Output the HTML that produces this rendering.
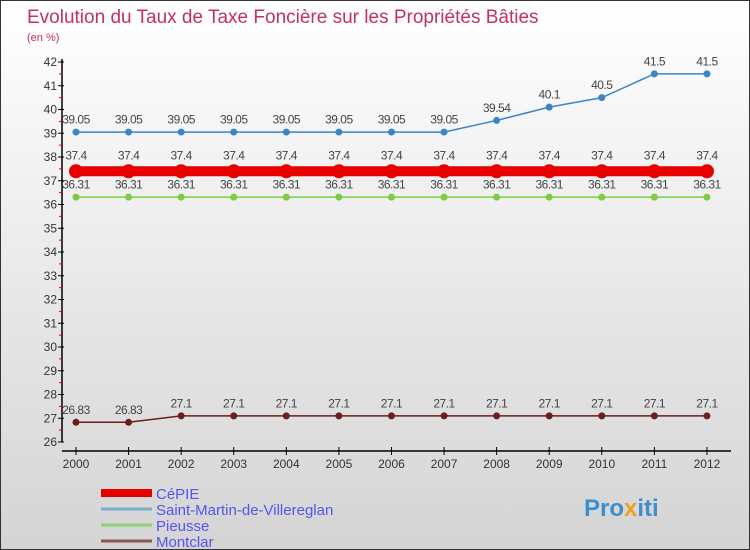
<!DOCTYPE html>
<html><head><meta charset="utf-8"><style>
body{margin:0;}
#c{width:748px;height:548px;border:1px solid #333;background:linear-gradient(#fff,#d4d4d4);position:relative;overflow:hidden;font-family:"Liberation Sans",sans-serif;}
text{font-family:"Liberation Sans",sans-serif;}
</style></head><body>
<div id="c">
<svg id="s" width="748" height="548">
<text x="26" y="22" font-size="19" fill="#c0306a">Evolution du Taux de Taxe Foncière sur les Propriétés Bâties</text>
<text x="26" y="40" font-size="11" fill="#c0306a">(en %)</text>
</svg>
</div>
<script>
const years=[2000,2001,2002,2003,2004,2005,2006,2007,2008,2009,2010,2011,2012];
const cepie=[37.4,37.4,37.4,37.4,37.4,37.4,37.4,37.4,37.4,37.4,37.4,37.4,37.4];
const smv=[39.05,39.05,39.05,39.05,39.05,39.05,39.05,39.05,39.54,40.1,40.5,41.5,41.5];
const pieusse=[36.31,36.31,36.31,36.31,36.31,36.31,36.31,36.31,36.31,36.31,36.31,36.31,36.31];
const montclar=[26.83,26.83,27.1,27.1,27.1,27.1,27.1,27.1,27.1,27.1,27.1,27.1,27.1];
const yTicks=[26,27,28,29,30,31,32,33,34,35,36,37,38,39,40,41,42];
const s=document.getElementById('s');const NS='http://www.w3.org/2000/svg';
const X=i=>75+i*52.58;const Y=v=>441-(v-26)*23.75;
function el(t,a,name,txt){const e=document.createElementNS(NS,t);for(const k in a)e.setAttribute(k,a[k]);


if(txt!==undefined)e.textContent=txt;s.appendChild(e);return e;}
el('line',{x1:61,y1:58,x2:61,y2:441,stroke:'#000','stroke-width':1.5},'y-axis');
el('line',{x1:61,y1:450,x2:730,y2:450,stroke:'#000','stroke-width':1.5},'x-axis');
yTicks.forEach(v=>{el('line',{x1:57,y1:Y(v),x2:63,y2:Y(v),stroke:'#000'},'y-tick');
if(v<42)el('line',{x1:58,y1:Y(v+0.5),x2:61,y2:Y(v+0.5),stroke:'#e00'},'y-minor-tick');
el('text',{x:56,y:Y(v)+4,'font-size':12,'text-anchor':'end',fill:'#333'},'y-tick-label',v);});
years.forEach((y,i)=>{el('line',{x1:X(i),y1:446,x2:X(i),y2:454,stroke:'#000'},'x-tick');
el('text',{x:X(i),y:467,'font-size':12,'text-anchor':'middle',fill:'#333'},'x-tick-label',y);});
function series(d,col,w,r,name){el('polyline',{points:d.map((v,i)=>X(i)+','+Y(v)).join(' '),fill:'none',stroke:col,'stroke-width':w},name+'-line');
d.forEach((v,i)=>{el('circle',{cx:X(i),cy:Y(v),r:r,fill:col},name+'-point');
el('text',{x:X(i),y:Y(v)-(r+5),'font-size':12,'text-anchor':'middle',fill:'#444','letter-spacing':'-0.5'},name+'-value-label',v);});}
series(smv,'#3a85c6',1.5,3.5,'saint-martin');
series(montclar,'#6b1e1e',1.5,3.5,'montclar');
series(pieusse,'#7fcc44',1.5,3.5,'pieusse');
series(cepie,'#e80000',10,7,'cepie');
const leg=[['CéPIE','#e80000',8],['Saint-Martin-de-Villereglan','#7aaed0',3],['Pieusse','#8fd070',3],['Montclar','#8a5555',3]];
leg.forEach((l,i)=>{const y=492+i*16;el('line',{x1:100,y1:y,x2:151,y2:y,stroke:l[1],'stroke-width':l[2]},'legend-swatch');
el('text',{x:155,y:y+6,'font-size':15,fill:'#5555ee'},'legend-entry',l[0]);});
const logo=el('text',{x:583,y:515,'font-size':24,'font-weight':'bold'},'proxiti-logo');
[['Pro','#3a8fd0'],['x','#f0a020'],['iti','#3a8fd0']].forEach(p=>{const t=document.createElementNS(NS,'tspan');t.setAttribute('fill',p[1]);t.textContent=p[0];logo.appendChild(t);});
</script>
</body></html>
